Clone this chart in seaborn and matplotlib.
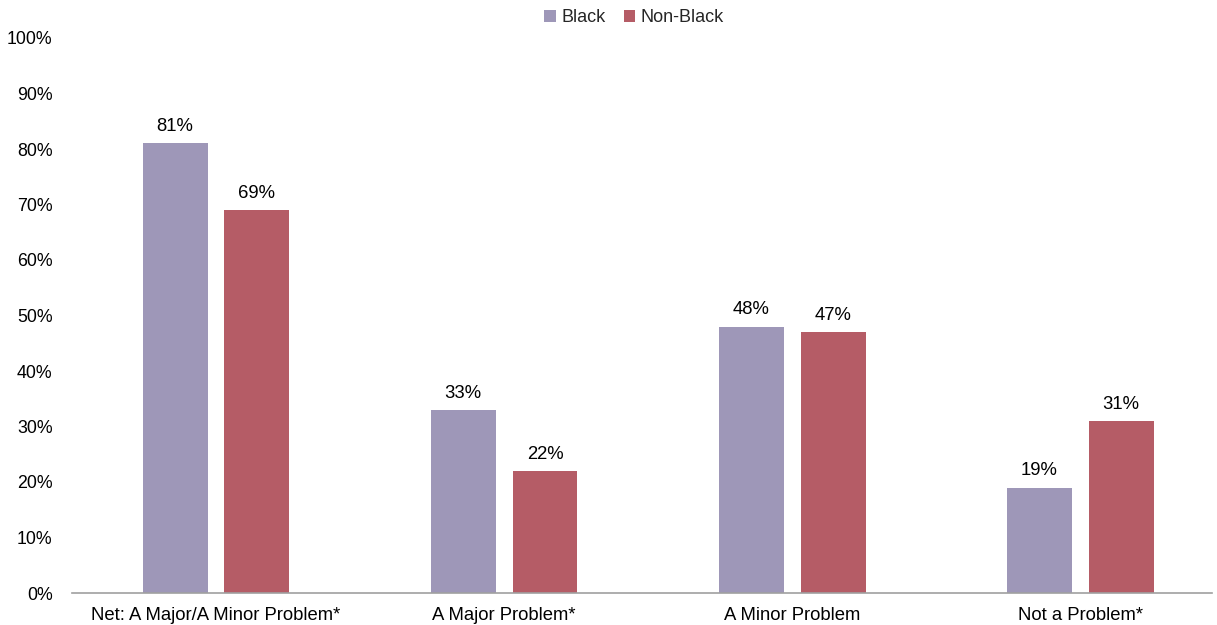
import matplotlib
matplotlib.use("Agg")
import matplotlib.pyplot as plt
import seaborn as sns
import pandas as pd
from matplotlib.ticker import PercentFormatter

categories = ["Net: A Major/A Minor Problem*", "A Major Problem*", "A Minor Problem", "Not a Problem*"]
groups = ["Black", "Non-Black"]
black_values = [81, 33, 48, 19]
non_black_values = [69, 22, 47, 31]
y_ticks = list(range(0, 101, 10))

colors = {"Black": "#9E97B8", "Non-Black": "#B55C66"}

df = pd.DataFrame({
    "category": categories * 2,
    "group": ["Black"] * len(categories) + ["Non-Black"] * len(categories),
    "value": black_values + non_black_values,
})

sns.set_theme(style="white")
plt.rcParams["font.family"] = ["Liberation Sans", "DejaVu Sans"]

fig = plt.figure(figsize=(12.17, 6.25), dpi=100)
ax = fig.add_axes([72 / 1217, 1 - 593 / 625, (1212 - 72) / 1217, (593 - 38) / 625])

sns.barplot(data=df, x="category", y="value", hue="group", order=categories,
            hue_order=groups, palette=colors, width=0.569, gap=0.207,
            saturation=1, linewidth=0, ax=ax, legend=True)

for container in ax.containers:
    ax.bar_label(container, fmt="%d%%", padding=6, fontsize=13.3, color="#000000")

ax.set_ylim(0, 100)
ax.set_xlim(-0.5, 3.458)
ax.set_yticks(y_ticks)
ax.yaxis.set_major_formatter(PercentFormatter(decimals=0))
ax.tick_params(axis="y", labelsize=12.8, length=0, pad=14, colors="#000000")
ax.tick_params(axis="x", labelsize=13.3, length=0, pad=10, colors="#000000")
ax.set_xlabel("")
ax.set_ylabel("")
for side in ["top", "right", "left"]:
    ax.spines[side].set_visible(False)
ax.spines["bottom"].set_color("#A0A0A0")
ax.spines["bottom"].set_linewidth(1.2)

handles, labels = ax.get_legend_handles_labels()
ax.legend(handles, labels, loc="center", bbox_to_anchor=(634 / 1217, 1 - 18 / 625),
          bbox_transform=fig.transFigure, ncol=2, frameon=False, fontsize=13,
          handlelength=0.65, handleheight=0.65, handletextpad=0.3, columnspacing=1.0)

fig.savefig("out.png", dpi=100)
